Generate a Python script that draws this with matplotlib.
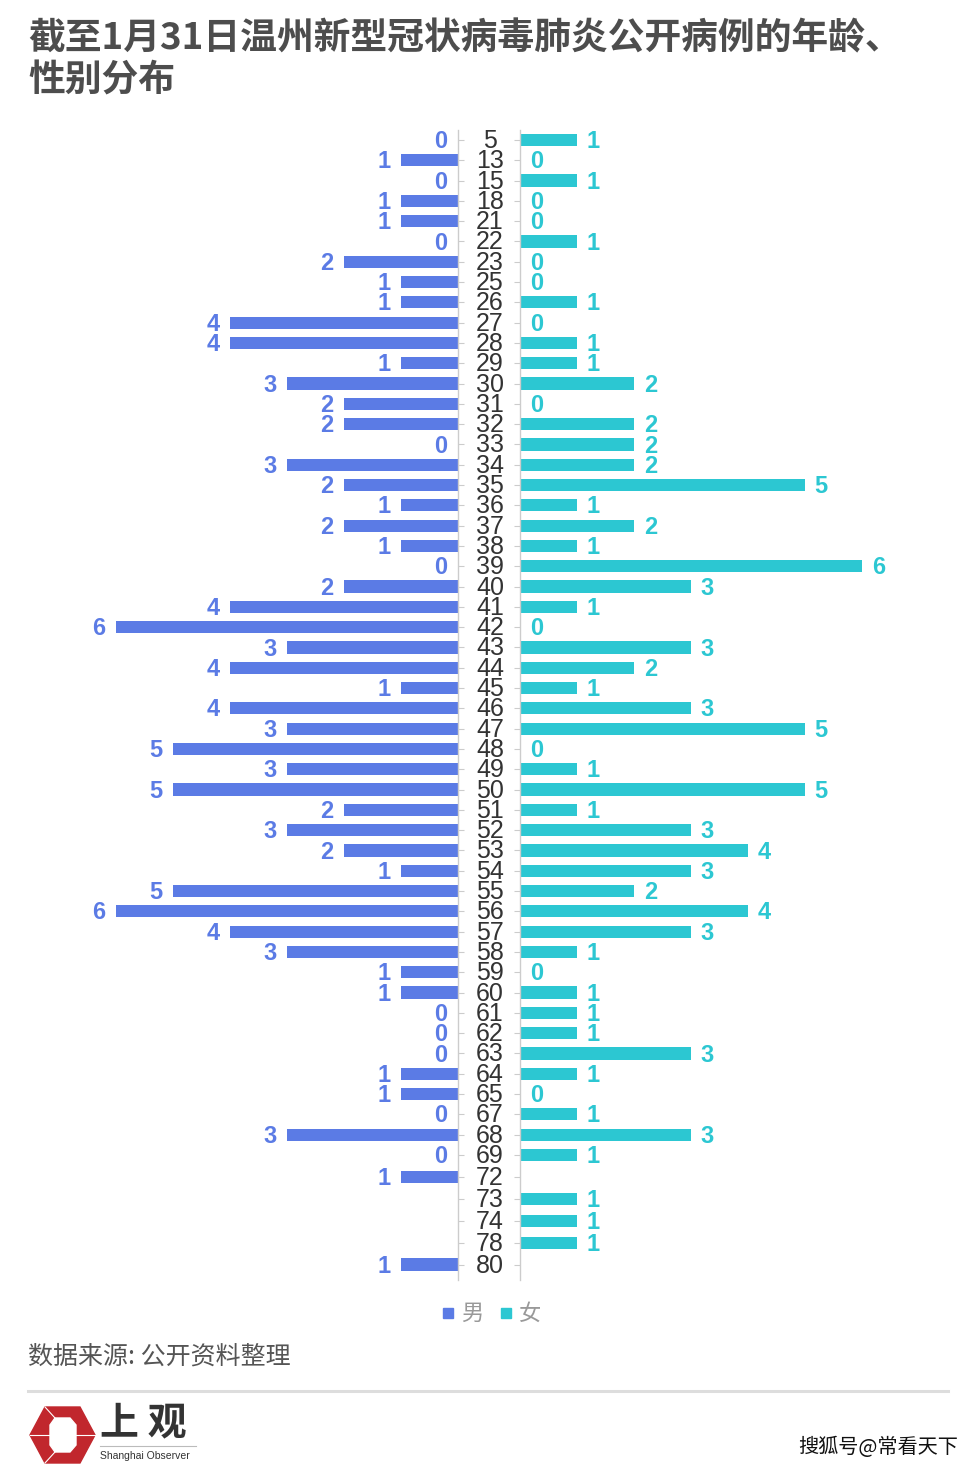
import numpy as np
import matplotlib.pyplot as plt
from matplotlib.patches import Polygon, Rectangle
from matplotlib.lines import Line2D
from matplotlib.transforms import blended_transform_factory

plt.rcParams['font.family'] = ['Noto Sans CJK SC', 'DejaVu Sans']

# ── data ─────────────────────────────────────────────────────────────────────
ages = [5, 13, 15, 18, 21, 22, 23, 25, 26, 27, 28, 29, 30, 31, 32, 33, 34, 35,
        36, 37, 38, 39, 40, 41, 42, 43, 44, 45, 46, 47, 48, 49, 50, 51, 52, 53,
        54, 55, 56, 57, 58, 59, 60, 61, 62, 63, 64, 65, 67, 68, 69,
        72, 73, 74, 78, 80]
nan = np.nan
male = [0, 1, 0, 1, 1, 0, 2, 1, 1, 4, 4, 1, 3, 2, 2, 0, 3, 2,
        1, 2, 1, 0, 2, 4, 6, 3, 4, 1, 4, 3, 5, 3, 5, 2, 3, 2,
        1, 5, 6, 4, 3, 1, 1, 0, 0, 0, 1, 1, 0, 3, 0,
        1, nan, nan, nan, 1]
female = [1, 0, 1, 0, 0, 1, 0, 0, 1, 0, 1, 1, 2, 0, 2, 2, 2, 5,
          1, 2, 1, 6, 3, 1, 0, 3, 2, 1, 3, 5, 0, 1, 5, 1, 3, 4,
          3, 2, 4, 3, 1, 0, 1, 1, 1, 3, 1, 0, 1, 3, 1,
          nan, 1, 1, 1, nan]
legend_labels = ["男", "女"]
title = "截至1月31日温州新型冠状病毒肺炎公开病例的年龄、\n性别分布"
source = "数据来源: 公开资料整理"

C_M = "#5b7be5"
C_F = "#2cc7d2"
AXC = "#cccccc"

W, H = 979, 1470
def fx(px): return px / W
def fy(py): return 1 - py / H

# first 51 rows evenly spaced, last block (72-80) slightly looser
n_main = 51
pos = np.array(list(range(n_main)) +
               [n_main - 1 + 1.08 * (k + 1) for k in range(len(ages) - n_main)])

fig = plt.figure(figsize=(W / 100, H / 100), dpi=100)
fig.patch.set_facecolor("white")

top, bot = 130, 1280
ax_m = fig.add_axes([fx(100), fy(bot), (458 - 100) / W, (bot - top) / H])
ax_f = fig.add_axes([fx(520), fy(bot), (880 - 520) / W, (bot - top) / H])

unit = 57.0
ax_m.set_xlim(358 / unit, 0)
ax_f.set_xlim(0, 360 / unit)
ylim = (56.16, -0.49)

m = np.array(male, dtype=float)
f = np.array(female, dtype=float)
ax_m.barh(pos, np.nan_to_num(m), height=0.6, color=C_M)
ax_f.barh(pos, np.nan_to_num(f), height=0.6, color=C_F)

for ax, side in ((ax_m, "right"), (ax_f, "left")):
    ax.set_ylim(*ylim)
    for s in ax.spines:
        ax.spines[s].set_visible(s == side)
    ax.spines[side].set_color(AXC)
    ax.spines[side].set_linewidth(1)
    ax.set_xticks([])
    ax.set_yticks(pos)
    ax.tick_params(axis="y", length=4, color=AXC, labelleft=False, labelright=False)
    ax.patch.set_alpha(0)
ax_m.yaxis.tick_right()
ax_m.tick_params(axis="y", labelright=False)

# value labels
for p, v in zip(pos, m):
    if not np.isnan(v):
        ax_m.text(v + 0.18, p + 0.08, f"{int(v)}", ha="right", va="center",
                  color=C_M, fontsize=17, fontweight="bold", family="Liberation Sans")
for p, v in zip(pos, f):
    if not np.isnan(v):
        ax_f.text(v + 0.17, p + 0.08, f"{int(v)}", ha="left", va="center",
                  color=C_F, fontsize=17, fontweight="bold", family="Liberation Sans")

# age labels in the gap
tr = blended_transform_factory(fig.transFigure, ax_f.transData)
for p, a in zip(pos, ages):
    ax_f.text(fx(490), p + 0.05, str(a), transform=tr, ha="center", va="center",
              color="#333333", fontsize=18, family="Liberation Sans", clip_on=False)

# title
fig.text(fx(28), fy(60), title, ha="left", va="center", fontsize=26.5,
         fontweight="bold", color="#4d4d4d", linespacing=1.2)

# legend
for x0, c, lab in ((443, C_M, legend_labels[0]), (501, C_F, legend_labels[1])):
    fig.patches.append(Rectangle((fx(x0), fy(1318)), 10 / W, 10 / H,
                                 transform=fig.transFigure, color=c))
    fig.text(fx(x0 + 18), fy(1313), lab, ha="left", va="center",
             fontsize=16, color="#999999")

# source + separator
fig.text(fx(28), fy(1357), source, ha="left", va="center", fontsize=18, color="#555555")
fig.add_artist(Line2D([fx(28), fx(948)], [fy(1391), fy(1391)], color="#dddddd", lw=2.2))

# logo
def pts(lst):
    return [(fx(x), fy(y)) for x, y in lst]
fig.patches.append(Polygon(pts([(30, 1435), (45, 1407), (80, 1407), (95, 1435),
                                (80, 1463), (45, 1463)]),
                           closed=True, transform=fig.transFigure, color="#c1272d"))
fig.patches.append(Polygon(pts([(50, 1425), (55, 1418), (70, 1418), (76, 1425),
                                (76, 1445), (70, 1452), (55, 1452), (50, 1445)]),
                           closed=True, transform=fig.transFigure, color="white"))
for seg in (((45, 1407), (55, 1418)), ((95, 1435), (76, 1435)),
            ((45, 1463), (55, 1452)), ((30, 1435), (50, 1435))):
    (x1, y1), (x2, y2) = seg
    fig.add_artist(Line2D([fx(x1), fx(x2)], [fy(y1), fy(y2)], color="white", lw=0.8))
fig.text(fx(100), fy(1423), "上 观", ha="left", va="center", fontsize=28,
         fontweight="bold", color="#333333")
fig.add_artist(Line2D([fx(100), fx(196)], [fy(1446), fy(1446)], color="#bbbbbb", lw=0.8))
fig.text(fx(100), fy(1456), "Shanghai Observer", ha="left", va="center",
         fontsize=7.5, color="#333333", family="Liberation Sans")

fig.text(fx(958), fy(1447), "搜狐号@常看天下", ha="right", va="center",
         fontsize=14.5, color="#111111")

fig.savefig("out.png", dpi=100, facecolor="white")
